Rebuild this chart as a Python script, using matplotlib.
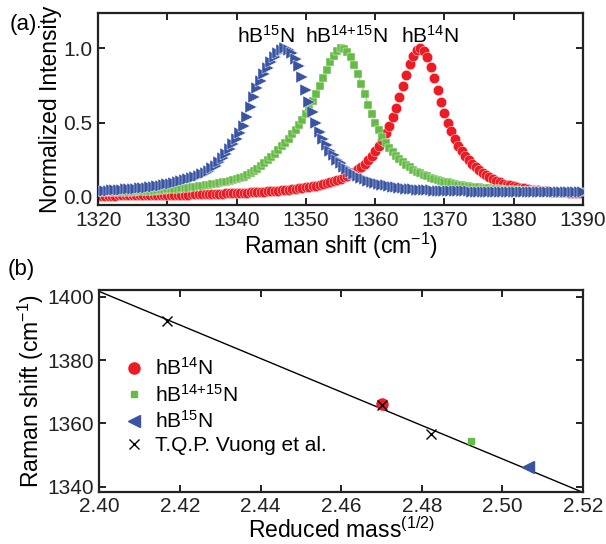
import matplotlib.pyplot as plt
import numpy as np

plt.rcParams['font.family'] = ['Liberation Sans', 'DejaVu Sans']
plt.rcParams['mathtext.fontset'] = 'custom'
plt.rcParams['mathtext.rm'] = 'Liberation Sans'
plt.rcParams['mathtext.it'] = 'Liberation Sans:italic'
plt.rcParams['mathtext.bf'] = 'Liberation Sans:bold'

# %% Data
# (a) Raman spectra, sampled every 0.5 cm^-1 from 1320 to 1390
shift = np.arange(1320, 1390.01, 0.5)
hb14n = [0.0085, 0.0087, 0.0089, 0.0091, 0.0093, 0.0095, 0.0097, 0.0099, 0.0101, 0.0104,
         0.0106, 0.0109, 0.0111, 0.0114, 0.0117, 0.0120, 0.0123, 0.0126, 0.0130, 0.0133,
         0.0137, 0.0141, 0.0145, 0.0149, 0.0153, 0.0157, 0.0162, 0.0167, 0.0172, 0.0177,
         0.0183, 0.0189, 0.0195, 0.0201, 0.0208, 0.0215, 0.0222, 0.0230, 0.0239, 0.0248,
         0.0257, 0.0266, 0.0277, 0.0287, 0.0299, 0.0311, 0.0324, 0.0338, 0.0353, 0.0368,
         0.0385, 0.0402, 0.0422, 0.0442, 0.0464, 0.0487, 0.0513, 0.0540, 0.0570, 0.0601,
         0.0636, 0.0674, 0.0715, 0.0759, 0.0809, 0.0862, 0.0921, 0.0986, 0.1060, 0.1138,
         0.1228, 0.1326, 0.1439, 0.1560, 0.1700, 0.1860, 0.2038, 0.2240, 0.2474, 0.2750,
         0.3100, 0.3450, 0.3850, 0.4300, 0.4800, 0.5400, 0.6015, 0.6730, 0.7474, 0.8220,
         0.8915, 0.9490, 0.9867, 1.0000, 0.9846, 0.9410, 0.8767, 0.8000, 0.7191, 0.6400,
         0.5664, 0.5000, 0.4414, 0.3900, 0.3459, 0.3080, 0.2747, 0.2460, 0.2215, 0.2000,
         0.1800, 0.1620, 0.1450, 0.1310, 0.1180, 0.1070, 0.0980, 0.0900, 0.0830, 0.0770,
         0.0710, 0.0660, 0.0610, 0.0570, 0.0530, 0.0497, 0.0465, 0.0440, 0.0415, 0.0395,
         0.0375, 0.0357, 0.0340, 0.0325, 0.0310, 0.0297, 0.0285, 0.0275, 0.0265, 0.0255,
         0.0245]
hb1415n = [0.030, 0.0305, 0.031, 0.0315, 0.032, 0.0325, 0.033, 0.034, 0.035, 0.0355,
           0.036, 0.037, 0.038, 0.039, 0.040, 0.0415, 0.043, 0.0445, 0.046, 0.048,
           0.050, 0.052, 0.054, 0.056, 0.058, 0.0605, 0.063, 0.0655, 0.068, 0.071,
           0.074, 0.077, 0.080, 0.084, 0.088, 0.0925, 0.097, 0.102, 0.107, 0.113,
           0.120, 0.127, 0.135, 0.146, 0.158, 0.173, 0.190, 0.207, 0.225, 0.247,
           0.270, 0.292, 0.315, 0.340, 0.365, 0.392, 0.420, 0.452, 0.485, 0.520,
           0.555, 0.598, 0.645, 0.695, 0.745, 0.800, 0.855, 0.905, 0.950, 0.985,
           1.000, 0.995, 0.975, 0.940, 0.890, 0.830, 0.760, 0.690, 0.620, 0.555,
           0.500, 0.450, 0.405, 0.365, 0.330, 0.300, 0.275, 0.252, 0.232, 0.214,
           0.198, 0.183, 0.170, 0.159, 0.148, 0.139, 0.130, 0.122, 0.115, 0.108,
           0.102, 0.097, 0.092, 0.0875, 0.083, 0.0795, 0.076, 0.073, 0.070, 0.067,
           0.064, 0.0615, 0.059, 0.057, 0.055, 0.053, 0.051, 0.0495, 0.048, 0.0465,
           0.045, 0.044, 0.043, 0.042, 0.041, 0.040, 0.039, 0.038, 0.037, 0.036,
           0.035, 0.0345, 0.034, 0.0335, 0.033, 0.0325, 0.032, 0.0315, 0.031, 0.0305,
           0.030]
hb15n = [0.040, 0.041, 0.042, 0.043, 0.044, 0.0455, 0.047, 0.0485, 0.050, 0.052,
         0.054, 0.056, 0.058, 0.0605, 0.063, 0.066, 0.069, 0.0725, 0.076, 0.0805,
         0.085, 0.0895, 0.094, 0.0995, 0.105, 0.111, 0.118, 0.125, 0.133, 0.142,
         0.152, 0.163, 0.176, 0.192, 0.210, 0.233, 0.260, 0.288, 0.320, 0.353,
         0.390, 0.432, 0.480, 0.540, 0.605, 0.670, 0.730, 0.783, 0.830, 0.870,
         0.905, 0.938, 0.965, 0.988, 1.000, 0.990, 0.970, 0.930, 0.880, 0.805,
         0.720, 0.640, 0.570, 0.500, 0.440, 0.390, 0.350, 0.312, 0.280, 0.250,
         0.225, 0.204, 0.185, 0.169, 0.155, 0.142, 0.130, 0.120, 0.110, 0.102,
         0.095, 0.089, 0.083, 0.078, 0.073, 0.069, 0.065, 0.061, 0.058, 0.0555,
         0.053, 0.051, 0.049, 0.0475, 0.046, 0.045, 0.044, 0.043, 0.042, 0.041,
         0.040, 0.0395, 0.039, 0.0385, 0.038, 0.0375, 0.037, 0.0365, 0.036, 0.036,
         0.036, 0.0355, 0.035, 0.035, 0.035, 0.0345, 0.034, 0.034, 0.034, 0.0335,
         0.033, 0.033, 0.033, 0.0325, 0.032, 0.032, 0.032, 0.032, 0.032, 0.0315,
         0.031, 0.031, 0.031, 0.031, 0.031, 0.0305, 0.030, 0.030, 0.030, 0.030,
         0.030]

# (b) peak position vs reduced mass
mass_14 = [2.4701]
peak_14 = [1366.0]
mass_1415 = [2.4922]
peak_1415 = [1354.6]
mass_15 = [2.5063]
peak_15 = [1346.3]
mass_vuong = [2.4168, 2.4701, 2.4823]
peak_vuong = [1392.5, 1365.7, 1356.6]
fit_mass = [2.40, 2.52]
fit_peak = [1401.7, 1338.2]

red = '#ED1C24'
green = '#66BB46'
blue = '#3A54A4'

fig = plt.figure(figsize=(6.06, 5.44), dpi=100)
ax_a = fig.add_axes([0.162, 0.623, 0.800, 0.353])
ax_b = fig.add_axes([0.164, 0.096, 0.798, 0.371])

# %% Panel (a)
ax_a.plot(shift, hb14n, 'o', color=red, ms=7.5, mec='white', mew=0.3, zorder=2)
ax_a.plot(shift, hb1415n, '-', color='#8FD070', lw=1.0, zorder=3)
ax_a.plot(shift, hb1415n, 's', color=green, ms=5.2, mec='white', mew=0.3, zorder=3)
ax_a.plot(shift, hb15n, '>', color=blue, ms=8.5, mec='white', mew=0.3, zorder=4)

ax_a.text(1344.2, 1.086, r'hB$^{15}$N', ha='center', va='center', fontsize=15)
ax_a.text(1355.9, 1.086, r'hB$^{14{+}15}$N', ha='center', va='center', fontsize=15)
ax_a.text(1367.9, 1.086, r'hB$^{14}$N', ha='center', va='center', fontsize=15)

ax_a.set_xlim(1320, 1390)
ax_a.set_ylim(-0.055, 1.237)
ax_a.set_xticks(np.arange(1320, 1391, 10))
ax_a.set_yticks([0.0, 0.5, 1.0])
ax_a.set_yticklabels(['0.0', '0.5', '1.0'])
ax_a.set_xlabel(r'Raman shift (cm$^{-1}$)', fontsize=16.5, labelpad=1)
ax_a.set_ylabel('Normalized Intensity', fontsize=16.5, labelpad=1)

# %% Panel (b)
ax_b.plot(fit_mass, fit_peak, '-', color='black', lw=1.0, zorder=1)
ax_b.plot(mass_14, peak_14, 'o', color=red, ms=8, ls='none', label=r'hB$^{14}$N', zorder=2)
ax_b.plot(mass_1415, peak_1415, 's', color=green, ms=5, ls='none', label=r'hB$^{14{+}15}$N', zorder=2)
ax_b.plot(mass_15, peak_15, '<', color=blue, ms=9, ls='none', label=r'hB$^{15}$N', zorder=2)
ax_b.plot(mass_vuong, peak_vuong, 'x', color='black', ms=6.5, mew=1.0, ls='none',
          label='T.Q.P. Vuong et al.', zorder=3)

ax_b.set_xlim(2.40, 2.52)
ax_b.set_ylim(1338.4, 1402.2)
ax_b.set_xticks(np.arange(2.40, 2.521, 0.02))
ax_b.set_xticklabels(['%.2f' % v for v in np.arange(2.40, 2.521, 0.02)])
ax_b.set_yticks([1340, 1360, 1380, 1400])
ax_b.set_xlabel(r'Reduced mass$^{(1/2)}$', fontsize=16.5, labelpad=1)
ax_b.set_ylabel(r'Raman shift (cm$^{-1}$)', fontsize=16.5, labelpad=1)

leg = ax_b.legend(loc='upper left', bbox_to_anchor=(0.02, 0.74), frameon=False,
                  fontsize=15, handlelength=1.0, handletextpad=0.5,
                  labelspacing=0.22, borderpad=0.2)

for ax in (ax_a, ax_b):
    for sp in ax.spines.values():
        sp.set_linewidth(1.6)
        sp.set_color('#222222')
    ax.tick_params(direction='in', top=True, right=True, length=5, width=1.4,
                   labelsize=15, pad=4, colors='#222222')
    ax.tick_params(labelcolor='#222222')

fig.text(0.038, 0.955, '(a)', fontsize=16, ha='center', va='center')
fig.text(0.035, 0.505, '(b)', fontsize=16, ha='center', va='center')

fig.savefig('out.png', dpi=100)
